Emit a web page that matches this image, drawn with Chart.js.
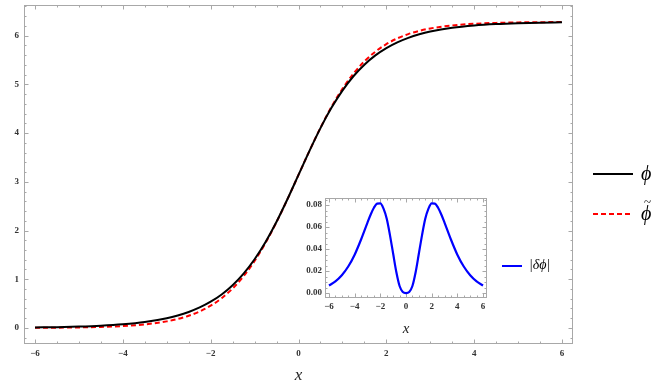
<!DOCTYPE html>
<html>
<head>
    <meta charset="utf-8">
    <title>Kink phi vs phi tilde</title>
    <script src="https://cdn.jsdelivr.net/npm/chart.js@4.4.0/dist/chart.umd.min.js"></script>
    <style>
        body { margin: 0; background: #fff; }
        #wrap { position: relative; width: 663px; height: 386px; }
        #mainChart, #insetChart { position: absolute; }
        #mainChart { left: 0; top: 0; }
        #insetChart { left: 290px; top: 190px; }
        .leg { position: absolute; font-family: "Liberation Serif", serif; font-style: italic; color: #000; line-height: 1; }
        .leg svg { position: absolute; }
    </style>
</head>
<body>
<div id="wrap">
    <canvas id="mainChart" width="663" height="386"></canvas>
    <canvas id="insetChart" width="205" height="150"></canvas>

    <div class="leg" style="left:593px; top:163px; width:70px; height:22px;">
        <svg width="42" height="4" style="left:0; top:9px;"><line x1="0" y1="2" x2="40" y2="2" stroke="#000" stroke-width="2"/></svg>
        <span style="position:absolute; left:48px; top:0; font-size:20px;">ϕ</span>
    </div>
    <div class="leg" style="left:593px; top:201px; width:70px; height:26px;">
        <svg width="42" height="4" style="left:0; top:11px;"><line x1="0" y1="2" x2="40" y2="2" stroke="#ff0000" stroke-width="2" stroke-dasharray="5,3"/></svg>
        <span style="position:absolute; left:48px; top:2px; font-size:20px;">ϕ</span>
        <span style="position:absolute; left:51px; top:-6px; font-size:13px; font-style:normal;">~</span>
    </div>
    <div class="leg" style="left:502px; top:257px; width:70px; height:20px;">
        <svg width="22" height="4" style="left:0; top:7px;"><line x1="0" y1="2" x2="20" y2="2" stroke="#0000ff" stroke-width="2"/></svg>
        <span style="position:absolute; left:27px; top:1px; font-size:14px;">|δϕ|</span>
    </div>
</div>

<script>
    // valori
    const xs = [-6, -5.5, -5, -4.5, -4, -3.5, -3, -2.75, -2.5, -2.25, -2, -1.75, -1.5, -1.25, -1, -0.75, -0.5, -0.25, 0,
                0.25, 0.5, 0.75, 1, 1.25, 1.5, 1.75, 2, 2.25, 2.5, 2.75, 3, 3.5, 4, 4.5, 5, 5.5, 6];
    const phi = [0.0099, 0.0164, 0.0270, 0.0444, 0.0733, 0.1208, 0.1990, 0.2554, 0.3276, 0.4201, 0.5382, 0.6877, 0.8780, 1.1156, 1.4099, 1.7650, 2.1805, 2.6468, 3.1416,
                 3.6364, 4.1027, 4.5182, 4.8733, 5.1676, 5.4052, 5.5955, 5.7450, 5.8631, 5.9556, 6.0278, 6.0842, 6.1624, 6.2099, 6.2388, 6.2562, 6.2668, 6.2733];
    const phiTilde = [0.0030, 0.0057, 0.0108, 0.0203, 0.0384, 0.0721, 0.1348, 0.1839, 0.2501, 0.3388, 0.4566, 0.6110, 0.8105, 1.0629, 1.3742, 1.7461, 2.1741, 2.6458, 3.1416,
                      3.6374, 4.1091, 4.5371, 4.9090, 5.2203, 5.4727, 5.6721, 5.8266, 5.9444, 6.0331, 6.0992, 6.1484, 6.2111, 6.2448, 6.2629, 6.2724, 6.2775, 6.2802];
    const dPhi = [0.0069, 0.0106, 0.0162, 0.0241, 0.0349, 0.0487, 0.0641, 0.0714, 0.0775, 0.0813, 0.0816, 0.0767, 0.0675, 0.0527, 0.0357, 0.0189, 0.0064, 0.0010, 0,
                  0.0010, 0.0064, 0.0189, 0.0357, 0.0527, 0.0675, 0.0767, 0.0816, 0.0813, 0.0775, 0.0714, 0.0641, 0.0487, 0.0349, 0.0241, 0.0162, 0.0106, 0.0069];

    const mainXTicks = [-6, -4, -2, 0, 2, 4, 6];
    const mainYTicks = [0, 1, 2, 3, 4, 5, 6];
    const insetXTicks = [-6, -4, -2, 0, 2, 4, 6];
    const insetYTicks = [0, 0.02, 0.04, 0.06, 0.08];

    const pts = (ys) => xs.map((v, i) => ({x: v, y: ys[i]}));
    const tickFont = {family: 'Liberation Serif', size: 9, weight: 'bold'};
    const minus = (s) => String(s).replace('-', '\u2212');

    // scoate padding-ul automat pus de etichete, ca zona graficului sa fie exact unde vrem
    const fitX = (h) => (s) => { s.height = h; s.paddingLeft = 0; s.paddingRight = 0; };
    const fitY = (w) => (s) => { s.width = w; s.paddingTop = 0; s.paddingBottom = 0; };

    // rama gri cu tick-uri spre interior (ca in Mathematica)
    const frameTicks = {
        id: 'frameTicks',
        beforeDatasetsDraw(chart, args, o) {
            const {ctx, chartArea: a, scales: {x, y}} = chart;
            ctx.save();
            ctx.strokeStyle = o.color;
            ctx.lineWidth = 1;
            ctx.strokeRect(a.left + 0.5, a.top + 0.5, a.width - 1, a.height - 1);
            ctx.beginPath();
            const isMajor = (v, m) => Math.abs(v / m - Math.round(v / m)) < 1e-6;
            for (let v = Math.ceil(x.min / o.xMinor) * o.xMinor; v <= x.max; v += o.xMinor) {
                const px = Math.round(x.getPixelForValue(v)) + 0.5;
                const len = isMajor(v, o.xMajor) ? 4.5 : 2.5;
                ctx.moveTo(px, a.bottom); ctx.lineTo(px, a.bottom - len);
                ctx.moveTo(px, a.top); ctx.lineTo(px, a.top + len);
            }
            for (let v = Math.ceil(y.min / o.yMinor) * o.yMinor; v <= y.max; v += o.yMinor) {
                const py = Math.round(y.getPixelForValue(v)) + 0.5;
                const len = isMajor(v, o.yMajor) ? 4.5 : 2.5;
                ctx.moveTo(a.left, py); ctx.lineTo(a.left + len, py);
                ctx.moveTo(a.right, py); ctx.lineTo(a.right - len, py);
            }
            ctx.stroke();
            ctx.restore();
        }
    };

    const mainChart = new Chart(document.getElementById('mainChart'), {
        type: 'line',
        data: {
            datasets: [
                {
                    label: 'ϕ',
                    data: pts(phi),
                    borderColor: '#000000',
                    borderWidth: 2,
                    pointRadius: 0,
                    cubicInterpolationMode: 'monotone',
                },
                {
                    label: 'ϕ̃',
                    data: pts(phiTilde),
                    borderColor: '#ff0000',
                    borderWidth: 2,
                    borderDash: [5, 3],
                    pointRadius: 0,
                    cubicInterpolationMode: 'monotone',
                },
            ],
        },
        options: {
            responsive: false,
            animation: false,
            layout: {autoPadding: false, padding: {top: 5, right: 90, left: 0, bottom: 0}},
            plugins: {
                legend: {display: false},
                tooltip: {enabled: false},
                frameTicks: {color: '#a8a8a8', xMinor: 0.5, xMajor: 2, yMinor: 0.2, yMajor: 1},
            },
            scales: {
                x: {
                    type: 'linear',
                    min: -6.25,
                    max: 6.25,
                    grid: {display: false, drawTicks: false},
                    border: {display: false},
                    afterBuildTicks: (s) => { s.ticks = mainXTicks.map(v => ({value: v})); },
                    afterFit: fitX(42),
                    ticks: {font: tickFont, color: '#333', padding: 4, maxRotation: 0, callback: (v) => minus(v)},
                    title: {display: true, text: 'x', font: {family: 'Liberation Serif', size: 17, style: 'italic'}, color: '#222', padding: {top: 0, bottom: 0}},
                },
                y: {
                    min: -0.33,
                    max: 6.63,
                    grid: {display: false, drawTicks: false},
                    border: {display: false},
                    afterBuildTicks: (s) => { s.ticks = mainYTicks.map(v => ({value: v})); },
                    afterFit: fitY(24),
                    ticks: {font: tickFont, color: '#333', padding: 5, callback: (v) => minus(v)},
                },
            },
        },
        plugins: [frameTicks],
    });

    const insetChart = new Chart(document.getElementById('insetChart'), {
        type: 'line',
        data: {
            datasets: [
                {
                    label: '|δϕ|',
                    data: pts(dPhi),
                    borderColor: '#0000ff',
                    borderWidth: 2.2,
                    pointRadius: 0,
                    cubicInterpolationMode: 'monotone',
                },
            ],
        },
        options: {
            responsive: false,
            animation: false,
            layout: {autoPadding: false, padding: {top: 8, right: 8, left: 0, bottom: 0}},
            plugins: {
                legend: {display: false},
                tooltip: {enabled: false},
                frameTicks: {color: '#a8a8a8', xMinor: 0.5, xMajor: 2, yMinor: 0.005, yMajor: 0.02},
            },
            scales: {
                x: {
                    type: 'linear',
                    min: -6.31,
                    max: 6.31,
                    grid: {display: false, drawTicks: false},
                    border: {display: false},
                    afterBuildTicks: (s) => { s.ticks = insetXTicks.map(v => ({value: v})); },
                    afterFit: fitX(42),
                    ticks: {font: tickFont, color: '#333', padding: 3, maxRotation: 0, callback: (v) => minus(v)},
                    title: {display: true, text: 'x', font: {family: 'Liberation Serif', size: 15, style: 'italic'}, color: '#222', padding: {top: 0, bottom: 2}},
                },
                y: {
                    min: -0.0045,
                    max: 0.0864,
                    grid: {display: false, drawTicks: false},
                    border: {display: false},
                    afterBuildTicks: (s) => { s.ticks = insetYTicks.map(v => ({value: v})); },
                    afterFit: fitY(35),
                    ticks: {font: tickFont, color: '#333', padding: 3, callback: (v) => Number(v).toFixed(2)},
                },
            },
        },
        plugins: [frameTicks],
    });
</script>
</body>
</html>
